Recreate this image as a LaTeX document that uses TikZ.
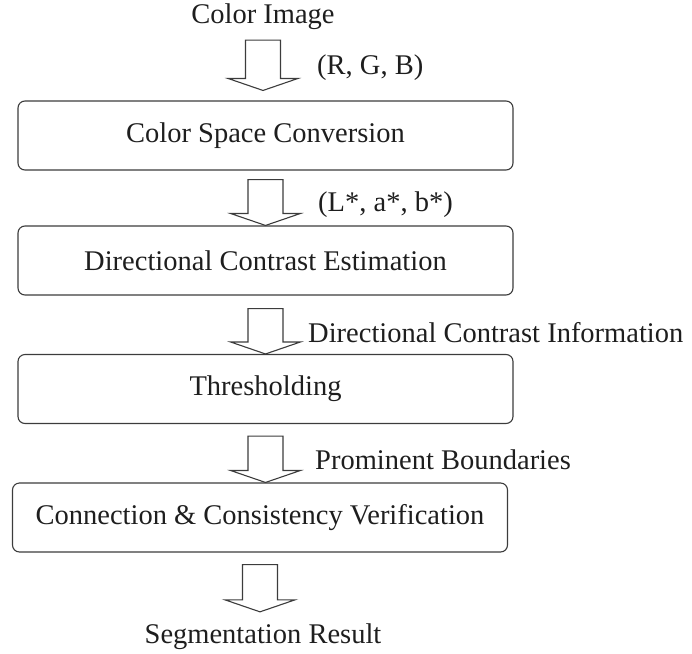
\documentclass[tikz,border=0pt]{standalone}
\usepackage{fontspec}
\setmainfont{Liberation Serif}
\usepackage{tikz}
\usetikzlibrary{calc,positioning}
\definecolor{flowline}{HTML}{3C3C3C}
\definecolor{flowtext}{HTML}{1E1E1E}
\tikzset{
every picture/.style={line join=miter},
stage box/.style={
  draw=flowline,
  rounded corners=7pt,
  line width=1.1pt,
  minimum width=495pt,
  minimum height=69pt,
  inner sep=0pt,
  text=flowtext,
  font=\fontsize{28.5}{34}\selectfont
},
flow label/.style={inner sep=0pt, text=flowtext, font=\fontsize{28.5}{34}\selectfont},
side label/.style={flow label, anchor=west},
fat arrow/.style 2 args={
  draw=flowline,
  line width=1.1pt,
  to path={
    let \p1=(\tikztostart.south), \p2=(\tikztotarget.north) in
    (\x1-17.5pt,\y1-#1) -- (\x1+17.5pt,\y1-#1) -- (\x1+17.5pt,\y2+#2+12pt)
    -- (\x1+35pt,\y2+#2+12pt) -- (\x1,\y2+#2) -- (\x1-35pt,\y2+#2+12pt)
    -- (\x1-17.5pt,\y2+#2+12pt) -- cycle
  }
}
}
\begin{document}
\begin{tikzpicture}[x=1pt,y=-1pt]
\useasboundingbox (0,0) rectangle (692,653);
\node[flow label] (image) at (263,17) {Color Image};
\node[stage box] (convert) at (265.5,135.5) {Color Space Conversion};
\node[stage box] (contrast) at (265.5,260.5) {Directional Contrast Estimation};
\node[stage box] (thresh) at (265.5,389) {Thresholding};
\node[stage box] (verify) at (260,517.5) {Connection \& Consistency Verification};
\node[flow label] (result) at (263,637) {Segmentation Result};
\node[side label] (rgb) at (317,68) {(R, G, B)};
\node[side label] (lab) at (318,205) {(L*, a*, b*)};
\node[side label] (dcinfo) at (308,333) {Directional Contrast Information};
\node[side label] (bounds) at (315,460) {Prominent Boundaries};
\draw[fat arrow={10pt}{10pt}] (image) to (convert);
\draw[fat arrow={9pt}{0pt}] (convert) to (contrast);
\draw[fat arrow={13pt}{0pt}] (contrast) to (thresh);
\draw[fat arrow={12pt}{0pt}] (thresh) to (verify);
\draw[fat arrow={12pt}{12pt}] (verify) to (result);
\end{tikzpicture}
\end{document}
